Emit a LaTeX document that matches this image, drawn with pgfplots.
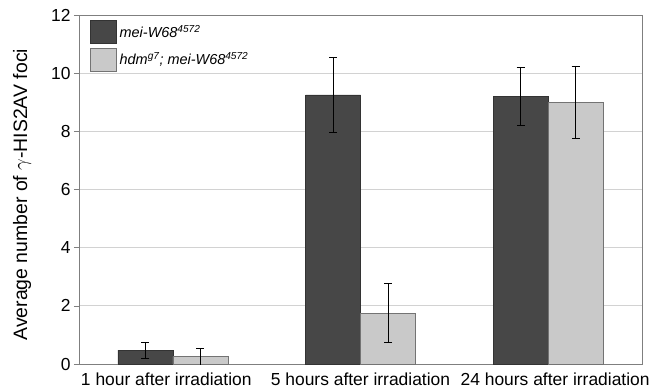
\documentclass[border=0pt]{standalone}
\usepackage{pgfplots}
\pgfplotsset{compat=1.18}
\usepackage{fontspec}
\setmainfont{Liberation Sans}
\usetikzlibrary{calc}
\definecolor{darkbar}{HTML}{474747}
\definecolor{lightbar}{HTML}{C9C9C9}
\definecolor{gridc}{HTML}{D2D2D2}
\definecolor{framec}{HTML}{7F7F7F}
\begin{document}
\begin{tikzpicture}
\begin{axis}[
  scale only axis, width=563bp, height=349bp,
  xmin=-0.5, xmax=2.5, ymin=0, ymax=12,
  ybar=0pt, bar width=55bp,
  ytick={0,2,...,12}, xtick={-0.035,1,2.037},
  xticklabels={1 hour after irradiation, 5 hours after irradiation, 24 hours after irradiation},
  /pgf/number format/assume math mode=true,
  ticklabel style={font=\fontsize{17.5}{19}\selectfont},
  x tick style={draw=none},
  y tick style={framec, line width=0.6pt},
  tick align=outside, ytick pos=left, major tick length=5bp,
  ymajorgrids, grid style={gridc, line width=0.8pt},
  axis line style={framec, line width=0.8pt},
  ylabel={Average number of $\gamma$-HIS2AV foci},
  every axis y label/.style={at={(axis description cs:-0.101,0.485)}, rotate=90, anchor=center, font=\fontsize{19.5}{21}\selectfont},
  legend image code/.code={\path[#1] (0bp,-11.5bp) rectangle (26bp,11.5bp);},
  legend cell align=left,
  legend style={at={(axis description cs:0.0195,0.986)}, anchor=north west,
    draw=none, fill=none, inner sep=0pt, row sep=4bp,
    font=\fontsize{14.5}{16}\selectfont\itshape,
    nodes={inner xsep=3bp}},
  error bars/y dir=both, error bars/y explicit,
  error bars/error bar style={black, line width=0.6pt},
  error bars/error mark options={rotate=90, mark size=4bp, black, line width=0.6pt},
]
\addplot[fill=darkbar, draw=black!80, line width=0.5pt] coordinates {
  (0,0.48) +- (0,0.27)
  (1,9.25) +- (0,1.28)
  (2,9.2) +- (0,1.0)
};
\addplot[fill=lightbar, draw=black!55, line width=0.5pt] coordinates {
  (0,0.25) +- (0,0.28)
  (1,1.75) +- (0,1.02)
  (2,9.0) +- (0,1.25)
};
\legend{mei-W68\textsuperscript{4572}, hdm\textsuperscript{g7}; mei-W68\textsuperscript{4572}}
\end{axis}
\path ($(current axis.south west)+(-79bp,-28bp)$) rectangle ($(current axis.north east)+(20bp,15bp)$);
\end{tikzpicture}
\end{document}
